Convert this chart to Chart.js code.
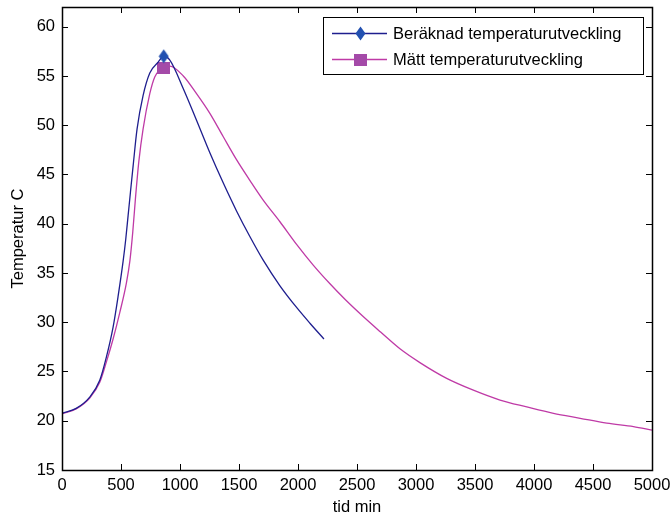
<!DOCTYPE html>
<html>
<head>
<meta charset="utf-8">
<script src="https://cdn.jsdelivr.net/npm/chart.js@4"></script>
<style>
  html, body { margin: 0; padding: 0; background: #fff; }
  #wrap { width: 670px; height: 517px; }
</style>
</head>
<body>
<div id="wrap"><canvas id="chart" width="670" height="517"></canvas></div>
<script>
// Beräknad temperaturutveckling (tid i minuter, temperatur i C)
const tidBeraknad = [0, 120, 235, 320, 377, 433, 475, 518, 540, 560, 580, 603, 636, 687, 744, 815, 862, 914, 1028, 1140, 1253, 1368, 1479, 1592, 1705, 1847, 1988, 2101, 2220];
const tempBeraknad = [20.75, 21.25, 22.4, 24.1, 26.5, 29.5, 32.6, 36.2, 38.4, 40.8, 43.2, 45.9, 49.6, 53.0, 55.3, 56.4, 57.0, 56.6, 53.7, 50.5, 47.2, 44.1, 41.3, 38.7, 36.3, 33.7, 31.5, 29.9, 28.3];

// Mätt temperaturutveckling
const tidMatt = [0, 120, 235, 320, 377, 433, 490, 546, 575, 600, 622, 651, 687, 744, 786, 829, 862, 914, 1028, 1140, 1253, 1368, 1479, 1592, 1705, 1847, 1988, 2129, 2271, 2400, 2550, 2700, 2864, 3033, 3260, 3486, 3712, 3939, 4165, 4391, 4617, 4843, 5000];
const tempMatt = [20.7, 21.2, 22.3, 23.9, 26.0, 28.3, 31.0, 34.0, 36.2, 39.2, 42.5, 46.3, 49.6, 53.2, 54.9, 55.6, 55.8, 56.0, 55.0, 53.2, 51.2, 48.8, 46.5, 44.4, 42.4, 40.2, 37.9, 35.8, 33.9, 32.3, 30.6, 29.0, 27.3, 25.9, 24.3, 23.1, 22.1, 21.4, 20.75, 20.25, 19.75, 19.4, 19.05];

// markören sitter vid toppen
const markorTid = 862;

const FONT = 'Liberation Sans, Arial, sans-serif';
const FONT_SIZE = 16.5;

function makeMarker(w, h, color, shape) {
  const c = document.createElement('canvas');
  c.width = w; c.height = h;
  const g = c.getContext('2d');
  g.fillStyle = color;
  if (shape === 'diamond') {
    g.beginPath();
    g.moveTo(w / 2, 0.5);
    g.lineTo(w - 0.5, h / 2);
    g.lineTo(w / 2, h - 0.5);
    g.lineTo(0.5, h / 2);
    g.closePath();
    g.fill();
  } else {
    g.fillRect(0, 0, w, h);
  }
  return c;
}

const diamond = makeMarker(11, 15, '#2250b0', 'diamond');
const square = makeMarker(13, 12, '#a44aa8', 'square');

const toPoints = (xs, ys) => xs.map((x, i) => ({ x: x, y: ys[i] }));

// ram runt ritytan med tickmarkeringar inåt på alla fyra sidor
const boxPlugin = {
  id: 'box',
  afterDatasetsDraw(chart) {
    const { ctx, chartArea: a, scales } = chart;
    const len = 6;
    ctx.save();
    ctx.strokeStyle = '#000';
    ctx.lineWidth = 1;
    ctx.beginPath();
    scales.x.ticks.forEach(t => {
      const px = Math.round(scales.x.getPixelForValue(t.value)) + 0.5;
      ctx.moveTo(px, a.bottom); ctx.lineTo(px, a.bottom - len);
      ctx.moveTo(px, a.top); ctx.lineTo(px, a.top + len);
    });
    scales.y.ticks.forEach(t => {
      const py = Math.round(scales.y.getPixelForValue(t.value)) + 0.5;
      ctx.moveTo(a.left, py); ctx.lineTo(a.left + len, py);
      ctx.moveTo(a.right, py); ctx.lineTo(a.right - len, py);
    });
    ctx.stroke();
    ctx.lineWidth = 1.5;
    ctx.strokeRect(Math.round(a.left) + 0.5, Math.round(a.top) + 0.5,
      Math.round(a.right - a.left), Math.round(a.bottom - a.top));
    ctx.restore();
  }
};

// legend med linje + markör, som i MATLAB
const legendPlugin = {
  id: 'matlabLegend',
  afterDraw(chart) {
    const { ctx } = chart;
    const x0 = 323, y0 = 17, w = 320, h = 57;
    ctx.save();
    ctx.fillStyle = '#fff';
    ctx.fillRect(x0, y0, w, h);
    ctx.strokeStyle = '#000';
    ctx.lineWidth = 1;
    ctx.strokeRect(x0 + 0.5, y0 + 0.5, w, h);
    const rows = [
      { y: 33.5, color: chart.data.datasets[0].borderColor, img: diamond, text: chart.data.datasets[0].label },
      { y: 59.5, color: chart.data.datasets[1].borderColor, img: square, text: chart.data.datasets[1].label }
    ];
    ctx.font = FONT_SIZE + 'px ' + FONT;
    ctx.textBaseline = 'middle';
    ctx.textAlign = 'left';
    rows.forEach(r => {
      ctx.strokeStyle = r.color;
      ctx.lineWidth = 1.3;
      ctx.beginPath();
      ctx.moveTo(332, r.y); ctx.lineTo(387, r.y);
      ctx.stroke();
      ctx.drawImage(r.img, 360.5 - r.img.width / 2, r.y - r.img.height / 2);
      ctx.fillStyle = '#000';
      ctx.fillText(r.text, 393, r.y + 1);
    });
    ctx.restore();
  }
};

new Chart(document.getElementById('chart'), {
  type: 'line',
  data: {
    datasets: [
      {
        label: 'Beräknad temperaturutveckling',
        data: toPoints(tidBeraknad, tempBeraknad),
        borderColor: '#1e1e8e',
        borderWidth: 1.3,
        cubicInterpolationMode: 'monotone',
        pointStyle: diamond,
        pointRadius: c => (c.raw && c.raw.x === markorTid ? 6 : 0)
      },
      {
        label: 'Mätt temperaturutveckling',
        data: toPoints(tidMatt, tempMatt),
        borderColor: '#bf3aa6',
        borderWidth: 1.3,
        cubicInterpolationMode: 'monotone',
        pointStyle: square,
        pointRadius: c => (c.raw && c.raw.x === markorTid ? 6 : 0)
      }
    ]
  },
  options: {
    responsive: false,
    animation: false,
    events: [],
    layout: { padding: { top: 7, right: 18, left: 0, bottom: 0 } },
    plugins: {
      legend: { display: false },
      tooltip: { enabled: false }
    },
    scales: {
      x: {
        type: 'linear',
        min: 0,
        max: 5000,
        grid: { display: false, drawTicks: false },
        border: { display: false },
        ticks: { stepSize: 500, padding: 6, color: '#000', maxRotation: 0, autoSkip: false,
          callback: v => String(v), font: { family: FONT, size: FONT_SIZE } },
        title: { display: true, text: 'tid min', color: '#000', padding: { top: 0, bottom: 0 }, font: { family: FONT, size: FONT_SIZE } },
        afterFit: s => { s.height = 47; s.paddingLeft = 0; s.paddingRight = 0; }
      },
      y: {
        type: 'linear',
        min: 15,
        max: 62,
        grid: { display: false, drawTicks: false },
        border: { display: false },
        ticks: { stepSize: 5, includeBounds: false, padding: 7, color: '#000',
          callback: v => String(v), font: { family: FONT, size: FONT_SIZE } },
        title: { display: true, text: 'Temperatur C', color: '#000', padding: { top: 9, bottom: 0 }, font: { family: FONT, size: FONT_SIZE } },
        afterFit: s => { s.width = 62; s.paddingTop = 0; s.paddingBottom = 0; }
      }
    }
  },
  plugins: [boxPlugin, legendPlugin]
});
</script>
</body>
</html>
